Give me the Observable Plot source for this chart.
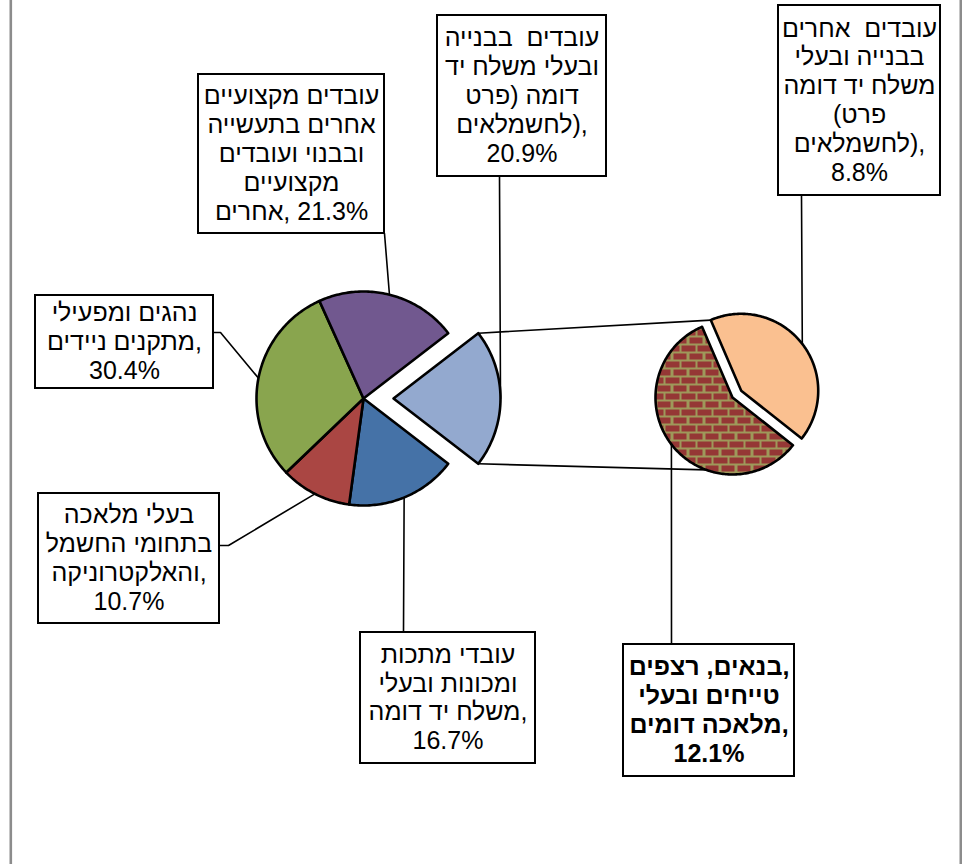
<!DOCTYPE html>
<html>
<head>
<meta charset="utf-8">
<script src="https://cdn.jsdelivr.net/npm/d3@7"></script>
<script src="https://cdn.jsdelivr.net/npm/@observablehq/plot@0.6"></script>
<style>
  html, body { margin: 0; padding: 0; background: #fff; }
  #chart svg { display: block; }
</style>
</head>
<body>
<div id="chart"></div>
<script>
// ---------- DATA ----------
// main pie, clockwise starting with the exploded ("split") slice
const mainCategories = [
  "עובדים בבנייה ובעלי משלח יד דומה (פרט לחשמלאים)",
  "עובדי מתכות ומכונות ובעלי משלח יד דומה",
  "בעלי מלאכה בתחומי החשמל והאלקטרוניקה",
  "נהגים ומפעילי מתקנים ניידים",
  "עובדים מקצועיים אחרים בתעשייה ובבנוי ועובדים מקצועיים אחרים"
];
const mainValues = [20.9, 16.7, 10.7, 30.4, 21.3];
const mainColors = ["#93A9CF", "#4572A7", "#AA4643", "#89A54E", "#71588F"];

// secondary pie (break-down of the split slice)
const secCategories = [
  "עובדים אחרים בבנייה ובעלי משלח יד דומה (פרט לחשמלאים)",
  "בנאים, רצפים, טייחים ובעלי מלאכה דומים"
];
const secValues = [8.8, 12.1];
const secColors = ["#FAC090", "url(#brick)"];

// label texts (line-broken as in the picture)
const mainLabelLines = [
  ["עובדים  בבנייה", "ובעלי משלח יד", "דומה (פרט", "לחשמלאים),", "20.9%"],
  ["עובדי מתכות", "ומכונות ובעלי", "משלח יד דומה,", "16.7%"],
  ["בעלי מלאכה", "בתחומי החשמל", "והאלקטרוניקה,", "10.7%"],
  ["נהגים ומפעילי", "מתקנים ניידים,", "30.4%"],
  ["עובדים מקצועיים", "אחרים בתעשייה", "ובבנוי ועובדים", "מקצועיים", "אחרים\u200E, 21.3%"]
];
const secLabelLines = [
  ["עובדים  אחרים", "בבנייה ובעלי", "משלח יד דומה", "(פרט", "לחשמלאים),", "8.8%"],
  ["בנאים, רצפים,", "טייחים ובעלי", "מלאכה דומים,", "12.1%"]
];

// ---------- LAYOUT (pixels) ----------
const W = 962, H = 864;
const MAIN = {cx: 363, cy: 398, r: 107, explode: [30, 0, 0, 0, 0]};
const SEC = {cx: 732, cy: 397, r: 77, explode: [11, 0], startDeg: -23.3, bottomDeg: 200};
const FRAME_X = [10.3, 960.3];
const FONT_SIZE = 25, LINE_H = 28.8;
// label boxes: x1,x2,y1,y2 and leader anchor (ax, ay) + optional elbow dx
const mainBoxes = [
  {x1: 437, x2: 606, y1: 15, y2: 176, ax: 499, ay: 176},
  {x1: 360, x2: 535, y1: 632, y2: 763, ax: 403, ay: 632},
  {x1: 38, x2: 219, y1: 493, y2: 623, ax: 219, ay: 545, elbow: 9},
  {x1: 35, x2: 213, y1: 295, y2: 388, ax: 213, ay: 332, elbow: 7},
  {x1: 198, x2: 384, y1: 74, y2: 233, ax: 384, ay: 233}
];
const secBoxes = [
  {x1: 778, x2: 940, y1: 5, y2: 195, ax: 801, ay: 195},
  {x1: 623, x2: 794, y1: 644, y2: 776, ax: 671, ay: 644}
];

// ---------- GEOMETRY ----------
const rad = Math.PI / 180;
const pt = (cx, cy, r, a) => ({x: cx + r * Math.sin(a), y: cy - r * Math.cos(a)});

function buildSlices(values, colors, cats, P, start) {
  const arcs = d3.pie().sort(null).startAngle(start).endAngle(start + 2 * Math.PI)(values);
  return arcs.map((a, i) => {
    const mid = (a.startAngle + a.endAngle) / 2;
    const off = P.explode[i] || 0;
    const cx = P.cx + off * Math.sin(mid), cy = P.cy - off * Math.cos(mid);
    const n = Math.max(2, Math.ceil((a.endAngle - a.startAngle) / rad));
    const poly = [{x: cx, y: cy}];
    for (let k = 0; k <= n; k++) {
      const t = a.startAngle + (a.endAngle - a.startAngle) * k / n;
      poly.push(pt(cx, cy, P.r, t));
    }
    return {i, cat: cats[i], value: values[i], color: colors[i], cx, cy, r: P.r,
            a0: a.startAngle, a1: a.endAngle, mid, poly,
            tip: pt(cx, cy, P.r, mid)};
  });
}

const mainStart = Math.PI / 2 - (mainValues[0] / d3.sum(mainValues)) * Math.PI;
const mainSlices = buildSlices(mainValues, mainColors, mainCategories, MAIN, mainStart);
const secSlices = buildSlices(secValues, secColors, secCategories, SEC, SEC.startDeg * rad);

// connector lines between split slice and secondary pie
const split = mainSlices[0];
const cTop = [pt(split.cx, split.cy, split.r, split.a0), pt(secSlices[0].cx, secSlices[0].cy, SEC.r, secSlices[0].a0)];
const cBot = [pt(split.cx, split.cy, split.r, split.a1), pt(secSlices[1].cx, secSlices[1].cy, SEC.r, SEC.bottomDeg * rad)];

// leader lines: box anchor -> (elbow) -> slice tip
function leader(box, slice, id) {
  const pts = [{id, x: box.ax, y: box.ay}];
  if (box.elbow) pts.push({id, x: box.ax + box.elbow, y: box.ay});
  pts.push({id, x: slice.tip.x, y: slice.tip.y});
  return pts;
}
const leaders = [
  ...mainBoxes.flatMap((b, i) => leader(b, mainSlices[i], "m" + i)),
  ...secBoxes.flatMap((b, i) => leader(b, secSlices[i], "s" + i))
];
const connectors = [
  ...cTop.map(p => ({id: "top", ...p})),
  ...cBot.map(p => ({id: "bot", ...p}))
];

const boxes = [
  ...mainBoxes.map((b, i) => ({...b, lines: mainLabelLines[i], bold: false})),
  ...secBoxes.map((b, i) => ({...b, lines: secLabelLines[i], bold: i === 1}))
];
// one text element per line (keeps bidi resolution per line)
const lineRows = boxes.flatMap(b => b.lines.map((t, k) => ({
  text: t, bold: b.bold,
  x: (b.x1 + b.x2) / 2,
  y: (b.y1 + b.y2) / 2 + (k - (b.lines.length - 1) / 2) * LINE_H
})));

const FONT = "'Liberation Sans', Arial, sans-serif";

const sliceMarks = [...mainSlices, ...secSlices].map(s =>
  Plot.line(s.poly, {x: "x", y: "y", curve: "linear-closed", fill: s.color,
    stroke: "#000", strokeWidth: 2.6, strokeLinejoin: "round"})
);

const chart = Plot.plot({
  width: W, height: H,
  margin: 0,
  x: {domain: [0, W], range: [0, W], axis: null},
  y: {domain: [0, H], range: [0, H], axis: null},
  style: {fontFamily: FONT, background: "#fff"},
  marks: [
    Plot.ruleX(FRAME_X, {stroke: "#8c8c8c", strokeWidth: 2.6}),
    Plot.line(connectors, {x: "x", y: "y", z: "id", stroke: "#000", strokeWidth: 1.6}),
    Plot.line(leaders, {x: "x", y: "y", z: "id", stroke: "#000", strokeWidth: 1.6}),
    ...sliceMarks,
    Plot.rect(boxes, {x1: "x1", x2: "x2", y1: "y1", y2: "y2", fill: "#fff", stroke: "#000", strokeWidth: 2}),
    Plot.text(lineRows.filter(d => !d.bold), {x: "x", y: "y", text: "text",
      fontSize: FONT_SIZE, fill: "#000", fontFamily: FONT}),
    Plot.text(lineRows.filter(d => d.bold), {x: "x", y: "y", text: "text",
      fontSize: FONT_SIZE, fill: "#000", fontWeight: "bold", fontFamily: FONT})
  ]
});

// brick pattern for the secondary slice
const defs = d3.select(chart).insert("defs", ":first-child");
const pat = defs.append("pattern").attr("id", "brick").attr("patternUnits", "userSpaceOnUse")
  .attr("width", 16).attr("height", 16);
pat.append("rect").attr("width", 16).attr("height", 16).attr("fill", "#9e995a");
[[1, 1, 13, 6], [9, 9, 7, 6], [0, 9, 7, 6]].forEach(([x, y, w, h]) =>
  pat.append("rect").attr("x", x).attr("y", y).attr("width", w).attr("height", h).attr("fill", "#953735"));

document.getElementById("chart").appendChild(chart);
</script>
</body>
</html>
